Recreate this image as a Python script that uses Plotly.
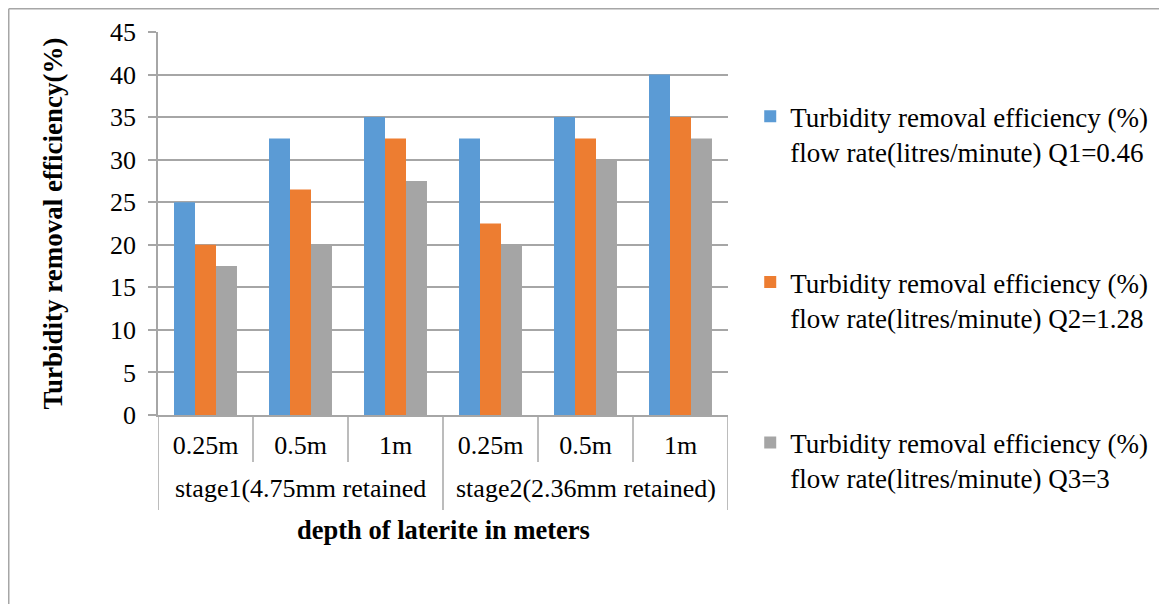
import plotly.graph_objects as go

stages = ["stage1(4.75mm retained", "stage2(2.36mm retained)"]
depths = ["0.25m", "0.5m", "1m"]
series_names = [
    "Turbidity removal efficiency (%)<br>flow rate(litres/minute) Q1=0.46",
    "Turbidity removal efficiency (%)<br>flow rate(litres/minute) Q2=1.28",
    "Turbidity removal efficiency (%)<br>flow rate(litres/minute) Q3=3",
]
q1 = [25, 32.5, 35, 32.5, 35, 40]
q2 = [20, 26.5, 32.5, 22.5, 32.5, 35]
q3 = [17.5, 20, 27.5, 20, 30, 32.5]
colors = ["#5B9BD5", "#ED7D31", "#A5A5A5"]
yticks = [0, 5, 10, 15, 20, 25, 30, 35, 40, 45]

inner = [d for _ in stages for d in depths]
xpos = list(range(len(inner)))
n_in = len(depths)

font = "Liberation Serif, Times New Roman, serif"
legend_ids = ["legend", "legend2", "legend3"]
legend_y = [0.843, 0.41, -0.009]

fig = go.Figure()
for i, (name, vals) in enumerate(zip(series_names, [q1, q2, q3])):
    fig.add_trace(go.Bar(
        x=xpos, y=vals, name=name,
        marker=dict(color=colors[i], line=dict(width=0)),
        legend=legend_ids[i],
    ))

W, H = 1159, 596
pl, pr, pt, pb = 150, 720, 24, 407
pw, ph = pr - pl, pb - pt
grey = "#a6a6a6"
legend_common = dict(x=1.039, xanchor="left", yanchor="top", valign="top",
                     font=dict(size=27, family=font, color="#000"),
                     itemwidth=30, bgcolor="rgba(0,0,0,0)", borderwidth=0)
fig.update_layout(
    width=W, height=H,
    margin=dict(l=pl, r=W - pr, t=pt, b=H - pb, autoexpand=False),
    paper_bgcolor="white", plot_bgcolor="white",
    font=dict(family=font, size=26, color="#000"),
    barmode="group", bargap=0.337, bargroupgap=0,
    showlegend=True,
    legend=dict(y=legend_y[0], **legend_common),
    legend2=dict(y=legend_y[1], **legend_common),
    legend3=dict(y=legend_y[2], **legend_common),
)
fig.update_yaxes(
    range=[0, 45], tickvals=yticks, ticktext=[str(v) for v in yticks],
    showgrid=True, gridcolor=grey, gridwidth=1.5,
    showline=True, linecolor=grey, linewidth=1.5,
    ticks="outside", ticklen=8, tickcolor=grey, tickwidth=1.5,
    ticklabelstandoff=7,
    tickfont=dict(size=26, family=font, color="#000"),
    title=dict(text="<b>Turbidity removal efficiency(%)</b>",
               font=dict(size=27, family=font, color="#000"), standoff=40),
    zeroline=False,
)
fig.update_xaxes(
    range=[-0.5, len(inner) - 0.5],
    tickvals=xpos, ticktext=inner,
    showline=True, linecolor=grey, linewidth=1.5,
    ticks="", ticklabelstandoff=6,
    tickfont=dict(size=26, family=font, color="#000"),
    showgrid=False, zeroline=False,
)

# category separators: short ones between depths, long ones at stage boundaries
y_short = (pb - 454) / ph
y_long = (pb - 502) / ph
for b in range(len(inner) + 1):
    xb = b - 0.5
    long_line = (b % n_in == 0)
    fig.add_shape(type="line", xref="x", yref="paper",
                  x0=xb, x1=xb, y0=0, y1=y_long if long_line else y_short,
                  line=dict(color=grey, width=1.5))
# stage labels
for s_i, s in enumerate(stages):
    fig.add_annotation(x=s_i * n_in + (n_in - 1) / 2, xref="x",
                       y=(pb - 480) / ph, yref="paper", yanchor="middle",
                       text=s, showarrow=False,
                       font=dict(size=26, family=font, color="#000"))
# x axis title
fig.add_annotation(x=0.5, xref="paper", y=(pb - 522) / ph, yref="paper",
                   yanchor="middle", text="<b>depth of laterite in meters</b>",
                   showarrow=False, font=dict(size=26.5, family=font, color="#000"))

# outer chart border (left and top edges visible in the reference)
fig.add_shape(type="line", xref="paper", yref="paper",
              x0=(0.75 - pl) / pw, x1=(0.75 - pl) / pw,
              y0=(pb - H) / ph, y1=(pb - 0.75) / ph,
              line=dict(color=grey, width=1.5))
fig.add_shape(type="line", xref="paper", yref="paper",
              x0=(0.75 - pl) / pw, x1=(W - pl) / pw,
              y0=(pb - 0.75) / ph, y1=(pb - 0.75) / ph,
              line=dict(color=grey, width=1.5))
fig.write_html("out.html")
